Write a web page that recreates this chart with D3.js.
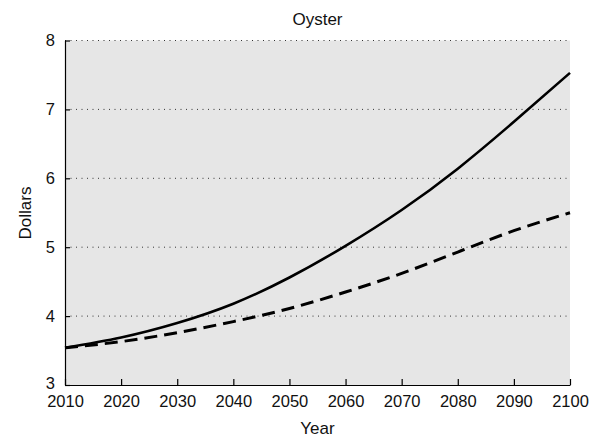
<!DOCTYPE html>
<html><head><meta charset="utf-8">
<script src="https://cdn.jsdelivr.net/npm/d3@7"></script>
<style>body{margin:0;background:#fff;} text{font-family:"Liberation Sans",Arial,sans-serif;}</style>
</head><body>
<svg id="chart" width="592" height="444"></svg>
<script>
const years = [2010, 2020, 2030, 2040, 2050, 2060, 2070, 2080, 2090, 2100];
const solidSeries = [3.54, 3.69, 3.90, 4.18, 4.56, 5.02, 5.54, 6.14, 6.82, 7.53];
const dashedSeries = [3.54, 3.63, 3.76, 3.92, 4.11, 4.35, 4.62, 4.93, 5.24, 5.50];
const xTicks = [2010, 2020, 2030, 2040, 2050, 2060, 2070, 2080, 2090, 2100];
const yTicks = [3, 4, 5, 6, 7, 8];
const title = "Oyster", xLabel = "Year", yLabel = "Dollars";

const svg = d3.select("#chart");
const L = 65, R = 570, T = 40.5, B = 385;
const x = d3.scaleLinear().domain([2010, 2100]).range([L, R]);
const y = d3.scaleLinear().domain([3, 8]).range([B, T]);

svg.append("rect").attr("x", L).attr("y", T).attr("width", R - L).attr("height", B - T).attr("fill", "#e6e6e6");

// grid
svg.append("g").selectAll("line").data(yTicks.filter(d => d > 3)).join("line")
  .attr("x1", L).attr("x2", R).attr("y1", d => y(d)).attr("y2", d => y(d))
  .attr("stroke", "#333").attr("stroke-width", 1).attr("stroke-dasharray", "1,4.5");

const line = d3.line().x((d, i) => x(years[i])).y(d => y(d)).curve(d3.curveNatural);
svg.append("path").datum(dashedSeries).attr("d", line).attr("fill", "none")
  .attr("stroke", "#000").attr("stroke-width", 3).attr("stroke-dasharray", "13,7");
svg.append("path").datum(solidSeries).attr("d", line).attr("fill", "none")
  .attr("stroke", "#000").attr("stroke-width", 2.6);

// axes
const xAxis = d3.axisBottom(x).tickValues(xTicks).tickFormat(d3.format("d")).tickSizeInner(-6).tickSizeOuter(0).tickPadding(10);
const gx = svg.append("g").attr("transform", `translate(0,${B})`).call(xAxis);
const yAxis = d3.axisLeft(y).tickValues(yTicks).tickFormat(d3.format("d")).tickSizeInner(-5).tickSizeOuter(0).tickPadding(10);
const gy = svg.append("g").attr("transform", `translate(${L},0)`).call(yAxis);
[gx, gy].forEach(g => {
  g.select(".domain").attr("stroke", "#000").attr("stroke-width", 1.2);
  g.selectAll(".tick line").attr("stroke", "#000").attr("stroke-width", 1.2);
  g.selectAll("text").attr("font-size", 16.5).attr("fill", "#111").attr("font-family", "Liberation Sans, Arial, sans-serif");
});
gx.selectAll("text").attr("dy", "0.71em").attr("y", 10);
gy.selectAll(".tick").filter(d => d === 3).select("text").attr("dy", "0.2em");

svg.append("text").attr("x", (L + R) / 2).attr("y", 25).attr("text-anchor", "middle")
  .attr("font-size", 17).attr("fill", "#111").text(title);
svg.append("text").attr("x", (L + R) / 2).attr("y", 434).attr("text-anchor", "middle")
  .attr("font-size", 17).attr("fill", "#111").text(xLabel);
svg.append("text").attr("transform", `translate(31,213) rotate(-90)`).attr("text-anchor", "middle")
  .attr("font-size", 17).attr("fill", "#111").text(yLabel);
</script>
</body></html>
